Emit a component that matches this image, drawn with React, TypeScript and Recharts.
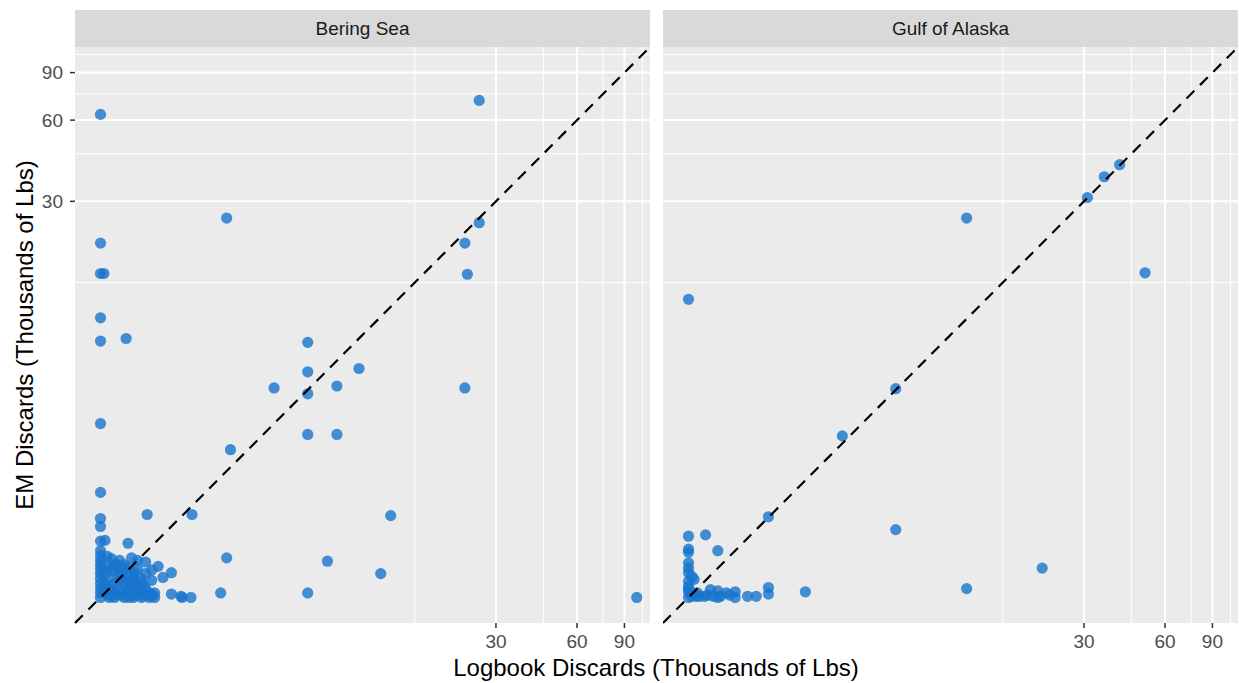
import { ScatterChart, Scatter, XAxis, YAxis, CartesianGrid, ReferenceLine } from 'recharts'

const FACETS = ['Bering Sea', 'Gulf of Alaska']
const MAJOR_BREAKS = [30, 60, 90]
const MINOR_BREAKS = [15, 45, 75, 105]
const LIMITS: [number, number] = [0.82, 112]

// Bering Sea: logbook (x) and EM (y) discards, thousands of lbs
const beringLogbook = [
  1.02, 26, 3.0, 26, 23, 23.5, 1.02, 1.02, 1.05, 1.02, 1.02, 1.27, 6.0, 6.0, 9.3, 4.5, 6.0, 7.7, 23, 1.02, 6.0,
  7.7, 3.1, 12.2, 3.0, 7.1, 11.2, 2.85, 6.0, 100, 1.02, 1.02, 1.02, 1.52, 2.23, 1.02, 1.06, 1.29, 1.33, 1.67,
  1.58, 1.87, 1.74, 1.58, 1.87, 2.03, 2.05, 2.21, 1.62, 1.62, 1.02, 1.02, 1.02, 1.02, 1.02, 1.02, 1.02, 1.02,
  1.02, 1.02, 1.02, 1.06, 1.1, 1.1, 1.1, 1.15, 1.15, 1.15, 1.2, 1.2, 1.25, 1.25, 1.25, 1.3, 1.3, 1.35, 1.35,
  1.4, 1.4, 1.45, 1.45, 1.5, 1.5, 1.55, 1.55, 1.2, 1.17, 1.4, 1.5, 1.08, 1.1, 1.3, 1.06, 1.06, 1.12, 1.18, 1.22,
  1.28, 1.33, 1.38, 1.43, 1.48, 1.08, 1.14, 1.2, 1.27, 1.34, 1.42, 1.12, 1.24, 1.36, 1.05, 1.1, 1.16, 1.22,
  1.29, 1.37, 1.46, 1.53, 1.6, 1.3, 1.44,
]
const beringEM = [
  63, 71, 26, 25, 21, 16.1, 21, 16.2, 16.2, 11.1, 9.1, 9.3, 9.0, 7.0, 7.2, 6.1, 5.8, 6.2, 6.1, 4.5, 4.1, 4.1,
  3.6, 2.05, 1.43, 1.39, 1.25, 1.06, 1.06, 1.02, 2.5, 2.0, 1.87, 2.07, 2.07, 1.65, 1.66, 1.62, 1.43, 1.33, 1.29,
  1.26, 1.21, 1.18, 1.05, 1.03, 1.02, 1.02, 1.02, 1.06, 1.52, 1.46, 1.4, 1.35, 1.3, 1.25, 1.2, 1.15, 1.1, 1.06,
  1.02, 1.06, 1.1, 1.2, 1.3, 1.02, 1.15, 1.35, 1.06, 1.25, 1.02, 1.15, 1.35, 1.1, 1.25, 1.02, 1.2, 1.06, 1.3,
  1.15, 1.02, 1.1, 1.25, 1.06, 1.02, 1.4, 1.35, 1.4, 1.38, 1.45, 1.02, 1.02, 1.25, 1.15, 1.08, 1.12, 1.18,
  1.08, 1.13, 1.18, 1.08, 1.13, 1.33, 1.28, 1.23, 1.2, 1.16, 1.12, 1.42, 1.3, 1.27, 1.1, 1.04, 1.04, 1.04,
  1.04, 1.04, 1.04, 1.04, 1.04, 1.32, 1.2,
]

// Gulf of Alaska
const gulfLogbook = [
  11, 1.02, 40.7, 35.7, 30.9, 50.6, 6.0, 3.8, 2.02, 6.0, 11, 21, 2.77, 2.02, 2.02, 1.82, 1.69, 1.52, 1.52, 1.41,
  1.45, 1.34, 1.31, 1.31, 1.23, 1.17, 1.12, 1.09, 1.07, 1.02, 1.18, 1.02, 1.02, 1.31, 1.02, 1.02, 1.02, 1.05,
  1.02, 1.02, 1.02, 1.02, 1.05, 1.06, 1.02, 1.1, 1.2, 1.26,
]
const gulfEM = [
  26, 13, 41, 37, 31, 16.3, 6.06, 4.05, 2.03, 1.82, 1.1, 1.31, 1.07, 1.11, 1.05, 1.03, 1.03, 1.07, 1.02, 1.06,
  1.04, 1.03, 1.08, 1.02, 1.09, 1.03, 1.03, 1.03, 1.19, 1.72, 1.74, 1.54, 1.5, 1.52, 1.37, 1.31, 1.26, 1.22,
  1.17, 1.12, 1.07, 1.02, 1.03, 1.06, 1.1, 1.06, 1.04, 1.03,
]

const FONT = '"Liberation Sans", Arial, sans-serif'
const PANEL_W = 575

function Dot(props: any) {
  return <circle cx={props.cx} cy={props.cy} r={5.6} fill="#1874CD" fillOpacity={0.8} />
}

function FacetPanel({
  title,
  logbook,
  em,
  left,
  showY,
}: {
  title: string
  logbook: number[]
  em: number[]
  left: number
  showY: boolean
}) {
  const data = logbook.map((x, i) => ({ x, y: em[i] }))
  const yw = showY ? 75 : 0

  return (
    <div style={{ position: 'absolute', left: left - yw, top: 0 }}>
      <div
        style={{
          position: 'absolute',
          left: yw,
          top: 10,
          width: PANEL_W,
          height: 37,
          background: '#D9D9D9',
          display: 'flex',
          alignItems: 'center',
          justifyContent: 'center',
          fontSize: 19,
          color: '#1A1A1A',
        }}
      >
        {title}
      </div>
      <ScatterChart width={PANEL_W + yw} height={683} margin={{ top: 47, right: 0, bottom: 30, left: 0 }}>
        <CartesianGrid fill="#EBEBEB" fillOpacity={1} stroke="none" />
        <XAxis
          dataKey="x"
          type="number"
          scale="log"
          domain={LIMITS}
          allowDataOverflow
          ticks={MAJOR_BREAKS}
          interval={0}
          axisLine={false}
          tickLine={{ stroke: '#333333', strokeWidth: 1.5 }}
          tickSize={5}
          tickMargin={7}
          tick={{ fill: '#4D4D4D', fontSize: 19 }}
          height={30}
        />
        <YAxis
          dataKey="y"
          type="number"
          scale="log"
          domain={LIMITS}
          allowDataOverflow
          ticks={MAJOR_BREAKS}
          interval={0}
          axisLine={false}
          tickLine={{ stroke: '#333333', strokeWidth: 1.5 }}
          tickSize={5}
          tickMargin={7}
          tick={{ fill: '#4D4D4D', fontSize: 19 }}
          width={yw}
          hide={!showY}
        />
        {MINOR_BREAKS.map((b) => (
          <ReferenceLine key={'mx' + b} x={b} stroke="#FFFFFF" strokeWidth={1} />
        ))}
        {MINOR_BREAKS.map((b) => (
          <ReferenceLine key={'my' + b} y={b} stroke="#FFFFFF" strokeWidth={1} />
        ))}
        {MAJOR_BREAKS.map((b) => (
          <ReferenceLine key={'Mx' + b} x={b} stroke="#FFFFFF" strokeWidth={2} />
        ))}
        {MAJOR_BREAKS.map((b) => (
          <ReferenceLine key={'My' + b} y={b} stroke="#FFFFFF" strokeWidth={2} />
        ))}
        <Scatter data={data} shape={Dot} isAnimationActive={false} />
        <ReferenceLine
          segment={[
            { x: LIMITS[0], y: LIMITS[0] },
            { x: LIMITS[1], y: LIMITS[1] },
          ]}
          stroke="#000000"
          strokeWidth={2.2}
          strokeDasharray="11 8"
          ifOverflow="visible"
          zIndex={700}
        />
      </ScatterChart>
    </div>
  )
}

export default function App() {
  return (
    <div
      style={{
        position: 'absolute',
        left: 0,
        top: 0,
        width: 1239,
        height: 683,
        background: '#FFFFFF',
        fontFamily: FONT,
        overflow: 'hidden',
      }}
    >
      <FacetPanel title={FACETS[0]} logbook={beringLogbook} em={beringEM} left={75} showY />
      <FacetPanel title={FACETS[1]} logbook={gulfLogbook} em={gulfEM} left={663} showY={false} />
      <svg width={1239} height={683} style={{ position: 'absolute', left: 0, top: 0, pointerEvents: 'none' }}>
        <text x={656} y={676} textAnchor="middle" fontSize={24} fill="#000000" fontFamily={FONT}>
          Logbook Discards (Thousands of Lbs)
        </text>
        <text
          x={33}
          y={335}
          textAnchor="middle"
          fontSize={24}
          fill="#000000"
          fontFamily={FONT}
          transform="rotate(-90 33 335)"
        >
          EM Discards (Thousands of Lbs)
        </text>
      </svg>
    </div>
  )
}
